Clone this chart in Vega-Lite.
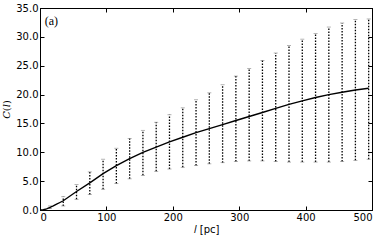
{
  "$schema": "https://vega.github.io/schema/vega-lite/v6.json",
  "width": 332,
  "height": 202,
  "autosize": {"type": "none"},
  "padding": {"left": 40, "top": 8, "right": 18, "bottom": 31},
  "background": "white",
  "config": {
    "view": {"stroke": "black", "strokeWidth": 1},
    "axis": {
      "grid": false,
      "domainColor": "black",
      "tickColor": "black",
      "labelColor": "black",
      "labelFont": "DejaVu Sans",
      "labelFontSize": 10,
      "tickSize": -4,
      "titleColor": "black"
    }
  },
  "datasets": {
    "bars": [
      {"l": 15, "lo": 0.25, "hi": 0.7},
      {"l": 35, "lo": 0.7, "hi": 2.3},
      {"l": 55, "lo": 1.85, "hi": 4.4},
      {"l": 75, "lo": 2.7, "hi": 6.6},
      {"l": 95, "lo": 3.6, "hi": 8.8},
      {"l": 115, "lo": 4.6, "hi": 10.7},
      {"l": 135, "lo": 5.4, "hi": 12.4},
      {"l": 155, "lo": 6.0, "hi": 13.8},
      {"l": 175, "lo": 6.7, "hi": 15.2},
      {"l": 195, "lo": 7.1, "hi": 16.5},
      {"l": 215, "lo": 7.4, "hi": 17.7},
      {"l": 235, "lo": 7.7, "hi": 19.1},
      {"l": 255, "lo": 8.0, "hi": 20.3},
      {"l": 275, "lo": 8.2, "hi": 21.7},
      {"l": 295, "lo": 8.4, "hi": 23.2},
      {"l": 315, "lo": 8.5, "hi": 24.5},
      {"l": 335, "lo": 8.5, "hi": 25.9},
      {"l": 355, "lo": 8.4, "hi": 27.2},
      {"l": 375, "lo": 8.3, "hi": 28.5},
      {"l": 395, "lo": 8.3, "hi": 29.6},
      {"l": 415, "lo": 8.3, "hi": 30.6},
      {"l": 435, "lo": 8.3, "hi": 31.7},
      {"l": 455, "lo": 8.4, "hi": 32.4},
      {"l": 475, "lo": 8.6, "hi": 33.0},
      {"l": 495, "lo": 8.8, "hi": 33.1}
    ],
    "line": [
      {"l": 0, "C": 0},
      {"l": 5, "C": 0.05},
      {"l": 10, "C": 0.2},
      {"l": 15, "C": 0.45},
      {"l": 20, "C": 0.7},
      {"l": 25, "C": 1.0},
      {"l": 30, "C": 1.3},
      {"l": 35, "C": 1.6},
      {"l": 55, "C": 3.2},
      {"l": 75, "C": 4.7},
      {"l": 95, "C": 6.3},
      {"l": 115, "C": 7.7},
      {"l": 135, "C": 8.9},
      {"l": 155, "C": 10.0},
      {"l": 175, "C": 10.9},
      {"l": 195, "C": 11.8},
      {"l": 215, "C": 12.6},
      {"l": 235, "C": 13.4},
      {"l": 255, "C": 14.1},
      {"l": 275, "C": 14.8},
      {"l": 295, "C": 15.5},
      {"l": 315, "C": 16.2},
      {"l": 335, "C": 16.9},
      {"l": 355, "C": 17.6},
      {"l": 375, "C": 18.3},
      {"l": 395, "C": 18.9},
      {"l": 415, "C": 19.5},
      {"l": 435, "C": 20.0},
      {"l": 455, "C": 20.4},
      {"l": 475, "C": 20.8},
      {"l": 495, "C": 21.1}
    ],
    "note": [{"l": 7, "C": 32.8, "label": "(a)"}]
  },
  "layer": [
    {
      "data": {"name": "bars"},
      "mark": {"type": "rule", "strokeDash": [1.5, 1.5], "color": "black", "strokeWidth": 1.3},
      "encoding": {
        "x": {
          "field": "l", "type": "quantitative",
          "scale": {"domain": [0, 500], "nice": false},
          "axis": {"orient": "bottom", "values": [0, 100, 200, 300, 400, 500], "format": "d", "labelPadding": 6, "title": "𝑙 [pc]", "titleFont": "DejaVu Sans", "titleFontSize": 10, "titleFontWeight": "normal", "titlePadding": 2}
        },
        "y": {
          "field": "lo", "type": "quantitative",
          "scale": {"domain": [0, 35], "nice": false},
          "axis": {"orient": "left", "values": [0, 5, 10, 15, 20, 25, 30, 35], "format": ".1f", "labelPadding": 6, "title": "𝐶(𝑙)", "titleFont": "DejaVu Serif", "titleFontSize": 10, "titleFontWeight": "normal", "titlePadding": 4}
        },
        "y2": {"field": "hi"}
      }
    },
    {
      "data": {"name": "bars"},
      "mark": {"type": "tick", "orient": "horizontal", "size": 4, "thickness": 0.8, "color": "#777777"},
      "encoding": {
        "x": {"field": "l", "type": "quantitative", "axis": null},
        "y": {"field": "hi", "type": "quantitative", "axis": null}
      }
    },
    {
      "data": {"name": "bars"},
      "mark": {"type": "tick", "orient": "horizontal", "size": 4, "thickness": 0.8, "color": "#777777"},
      "encoding": {
        "x": {"field": "l", "type": "quantitative", "axis": null},
        "y": {"field": "lo", "type": "quantitative", "axis": null}
      }
    },
    {
      "data": {"name": "line"},
      "mark": {"type": "line", "color": "black", "strokeWidth": 1.4},
      "encoding": {
        "x": {"field": "l", "type": "quantitative", "axis": {"orient": "top", "values": [0, 100, 200, 300, 400, 500], "labels": false, "title": null}},
        "y": {"field": "C", "type": "quantitative", "axis": {"orient": "right", "values": [0, 5, 10, 15, 20, 25, 30, 35], "labels": false, "title": null}}
      }
    },
    {
      "data": {"name": "note"},
      "mark": {"type": "text", "align": "left", "baseline": "middle", "font": "Liberation Serif", "fontSize": 12, "color": "black"},
      "encoding": {
        "x": {"field": "l", "type": "quantitative", "axis": null},
        "y": {"field": "C", "type": "quantitative", "axis": null},
        "text": {"field": "label"}
      }
    }
  ],
  "resolve": {"axis": {"x": "independent", "y": "independent"}}
}
